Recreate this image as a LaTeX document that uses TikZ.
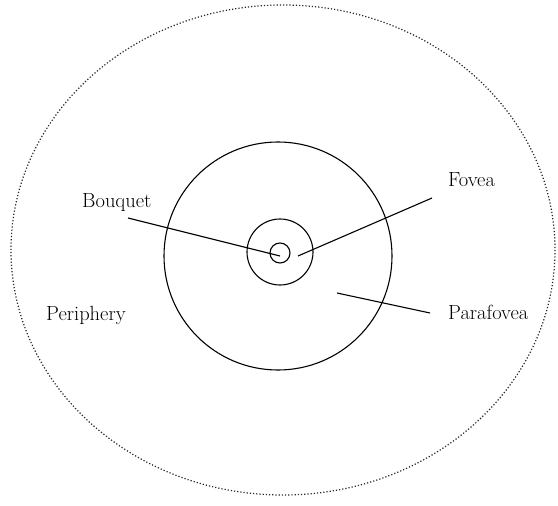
\documentclass[tikz,border=0pt]{standalone}
\begin{document}
\begin{tikzpicture}[x=1pt,y=-1pt,
  ring/.style={draw=black,line width=1.1pt},
  outerring/.style={draw=black!85,line width=1.2pt,dash pattern=on 1.2pt off 2pt},
  lbl/.style={anchor=base west,inner sep=0pt,font=\fontsize{20.5}{24}\selectfont},
  leader/.style={draw=black,line width=1.1pt}]
\useasboundingbox (0,0) rectangle (558,506);
\fill[white] (0,0) rectangle (558,506);
% regions
\draw[outerring] (283,250) ellipse [x radius=272, y radius=245];
\draw[ring] (278,256) circle [radius=114];
\draw[ring] (280,252) circle [radius=33];
\draw[ring] (280,253) circle [radius=10];
% labels
\node[lbl] (bouquet) at (82,207) {Bouquet};
\node[lbl] (fovea) at (448,186) {Fovea};
\node[lbl] (parafovea) at (448,319) {Parafovea};
\node[lbl] (periphery) at (46,320) {Periphery};
% leader line ends
\coordinate (bq1) at (128,218);
\coordinate (bq2) at (280,256);
\coordinate (fv1) at (432,198);
\coordinate (fv2) at (298,256);
\coordinate (pf1) at (430,313);
\coordinate (pf2) at (337,293);
\draw[leader] (bq1) -- (bq2);
\draw[leader] (fv1) -- (fv2);
\draw[leader] (pf1) -- (pf2);
\end{tikzpicture}
\end{document}
